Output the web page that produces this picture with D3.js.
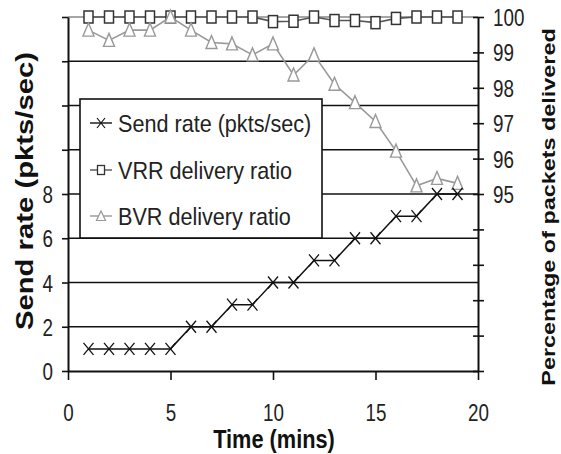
<!DOCTYPE html>
<html>
<head>
<meta charset="utf-8">
<script src="https://cdn.jsdelivr.net/npm/d3@7/dist/d3.min.js"></script>
<style>
  html, body { margin: 0; padding: 0; background: #fff; }
  svg { display: block; font-family: "Liberation Sans", Arial, sans-serif; }
</style>
</head>
<body>
<svg id="chart" width="561" height="454"></svg>
<script>
// Experiment timeline (minutes) and measured series
const minutes     = [1, 2, 3, 4, 5, 6, 7, 8, 9, 10, 11, 12, 13, 14, 15, 16, 17, 18, 19];
const sendRate    = [1, 1, 1, 1, 1, 2, 2, 3, 3, 4, 4, 5, 5, 6, 6, 7, 7, 8, 8];
const vrrDelivery = [100, 100, 100, 100, 100, 100, 100, 100, 100, 99.87, 99.88, 100, 99.9, 99.9, 99.84, 99.96, 100, 100, 100];
const bvrDelivery = [99.63, 99.34, 99.63, 99.63, 100, 99.63, 99.28, 99.24, 98.93, 99.24, 98.36, 98.93, 98.1, 97.58, 97.05, 96.21, 95.23, 95.44, 95.3];

// Axis ticks and labels
const timeTicks  = [0, 5, 10, 15, 20];
const rateTicks  = [0, 2, 4, 6, 8, 10, 12, 14, 16];
const rateLabels = [0, 2, 4, 6, 8];
const pctTicks   = [90, 91, 92, 93, 94, 95, 96, 97, 98, 99, 100];
const pctLabels  = [95, 96, 97, 98, 99, 100];
const seriesNames = ["Send rate (pkts/sec)", "VRR delivery ratio", "BVR delivery ratio"];

const svg = d3.select("#chart");
const plot = { left: 68, right: 478, top: 17, bottom: 371 };

const x  = d3.scaleLinear().domain([0, 20]).range([plot.left, plot.right]);
const yL = d3.scaleLinear().domain([0, 16]).range([plot.bottom, plot.top]);
const yR = d3.scaleLinear().domain([90, 100]).range([plot.bottom, plot.top]);

const TICK_FS = 23.5, TICK_SX = 0.8;

// Horizontal grid lines at every send-rate tick
svg.append("g").selectAll("line")
  .data(rateTicks.filter(d => d > 0))
  .join("line")
  .attr("x1", plot.left).attr("x2", plot.right)
  .attr("y1", d => yL(d)).attr("y2", d => yL(d))
  .attr("stroke", d => d === 16 ? "#888" : "#111")
  .attr("stroke-width", 1.6);

// Bottom axis
const gx = svg.append("g")
  .attr("transform", `translate(0,${plot.bottom})`)
  .call(d3.axisBottom(x).tickValues(timeTicks).tickSizeInner(9).tickSizeOuter(0));
gx.select(".domain").attr("stroke", "#111").attr("stroke-width", 2);
gx.selectAll(".tick line").attr("stroke", "#111").attr("stroke-width", 1.6);
gx.selectAll(".tick text")
  .attr("y", 50).attr("dy", 0)
  .attr("fill", "#222")
  .style("font-size", TICK_FS + "px")
  .attr("transform", `scale(${TICK_SX},1)`);

// Left axis (send rate)
const gl = svg.append("g")
  .attr("transform", `translate(${plot.left},0)`)
  .call(d3.axisLeft(yL).tickValues(rateTicks).tickSizeInner(6).tickSizeOuter(0)
    .tickFormat(d => rateLabels.includes(d) ? d : ""));
gl.select(".domain").attr("stroke", "#111").attr("stroke-width", 2);
gl.selectAll(".tick line").attr("stroke", "#111").attr("stroke-width", 1.6);
gl.selectAll(".tick text")
  .attr("x", -15 / TICK_SX).attr("dy", 8.5)
  .attr("fill", "#222")
  .style("font-size", TICK_FS + "px")
  .attr("transform", `scale(${TICK_SX},1)`);

// Right axis (delivery percentage), ticks cross the axis line
const gr = svg.append("g")
  .attr("transform", `translate(${plot.right},0)`)
  .call(d3.axisRight(yR).tickValues(pctTicks).tickSizeInner(6).tickSizeOuter(0)
    .tickFormat(d => pctLabels.includes(d) ? d : ""));
gr.select(".domain").attr("stroke", "#111").attr("stroke-width", 2);
gr.selectAll(".tick line").attr("x1", -5).attr("x2", 6).attr("stroke", "#111").attr("stroke-width", 1.6);
gr.selectAll(".tick text")
  .attr("x", 15 / TICK_SX).attr("dy", 8.5)
  .attr("fill", "#222")
  .style("font-size", TICK_FS + "px")
  .attr("transform", `scale(${TICK_SX},1)`);

// Axis titles
svg.append("text")
  .attr("transform", `translate(274,448) scale(0.87,1)`)
  .attr("text-anchor", "middle")
  .style("font-size", "25px").style("font-weight", "bold")
  .attr("fill", "#111")
  .text("Time (mins)");

svg.append("text")
  .attr("transform", `translate(33,191) rotate(-90) scale(1.22,1)`)
  .attr("text-anchor", "middle")
  .style("font-size", "24px").style("font-weight", "bold")
  .attr("fill", "#111")
  .text("Send rate (pkts/sec)");

svg.append("text")
  .attr("transform", `translate(555,207) rotate(-90) scale(1.3,1)`)
  .attr("text-anchor", "middle")
  .style("font-size", "18px").style("font-weight", "bold")
  .attr("fill", "#111")
  .text("Percentage of packets delivered");

// Marker shapes
const markers = {
  cross:  g => g.append("path").attr("d", "M-5,-6L5,6M-5,6L5,-6")
                .attr("stroke", "#111").attr("stroke-width", 1.3).attr("fill", "none"),
  square: g => g.append("rect").attr("x", -4.5).attr("y", -6).attr("width", 9).attr("height", 12)
                .attr("fill", "#fff").attr("stroke", "#333").attr("stroke-width", 1.5),
  tri:    g => g.append("path").attr("d", "M0,-7L5.5,6L-5.5,6Z")
                .attr("fill", "#fff").attr("stroke", "#999").attr("stroke-width", 1.4)
};

function drawSeries(values, yScale, color, width, marker) {
  const pts = minutes.map((m, i) => [m, values[i]]);
  svg.append("path")
    .datum(pts)
    .attr("fill", "none")
    .attr("stroke", color)
    .attr("stroke-width", width)
    .attr("d", d3.line().x(d => x(d[0])).y(d => yScale(d[1])));
  svg.append("g").selectAll("g")
    .data(pts)
    .join("g")
    .attr("transform", d => `translate(${x(d[0])},${yScale(d[1])})`)
    .each(function () { marker(d3.select(this)); });
}

drawSeries(vrrDelivery, yR, "#555", 1.6, markers.square);
drawSeries(bvrDelivery, yR, "#999", 1.6, markers.tri);
drawSeries(sendRate, yL, "#111", 1.5, markers.cross);

// Legend
const legend = svg.append("g");
legend.append("rect")
  .attr("x", 80).attr("y", 99).attr("width", 242).attr("height", 139)
  .attr("fill", "#fff").attr("stroke", "#111").attr("stroke-width", 1.6);

const legendItems = [
  { name: seriesNames[0], color: "#111", marker: g => g.append("path").attr("d", "M-4,-5L4,5M-4,5L4,-5").attr("stroke", "#111").attr("stroke-width", 1.2) },
  { name: seriesNames[1], color: "#555", marker: g => g.append("rect").attr("x", -3.5).attr("y", -4.5).attr("width", 7).attr("height", 9).attr("fill", "#fff").attr("stroke", "#333").attr("stroke-width", 1.3) },
  { name: seriesNames[2], color: "#999", marker: g => g.append("path").attr("d", "M0,-5L4.5,4.5L-4.5,4.5Z").attr("fill", "#fff").attr("stroke", "#999").attr("stroke-width", 1.2) }
];
const legendRows = [123, 170, 216];

legendItems.forEach((item, i) => {
  const row = legend.append("g").attr("transform", `translate(0,${legendRows[i]})`);
  row.append("line").attr("x1", 90).attr("x2", 112).attr("y1", 0).attr("y2", 0)
    .attr("stroke", item.color).attr("stroke-width", 1.4);
  item.marker(row.append("g").attr("transform", "translate(101,0)"));
  row.append("text")
    .attr("transform", "translate(118,8.5) scale(0.9,1)")
    .style("font-size", "24px")
    .attr("fill", "#222")
    .text(item.name);
});
</script>
</body>
</html>
